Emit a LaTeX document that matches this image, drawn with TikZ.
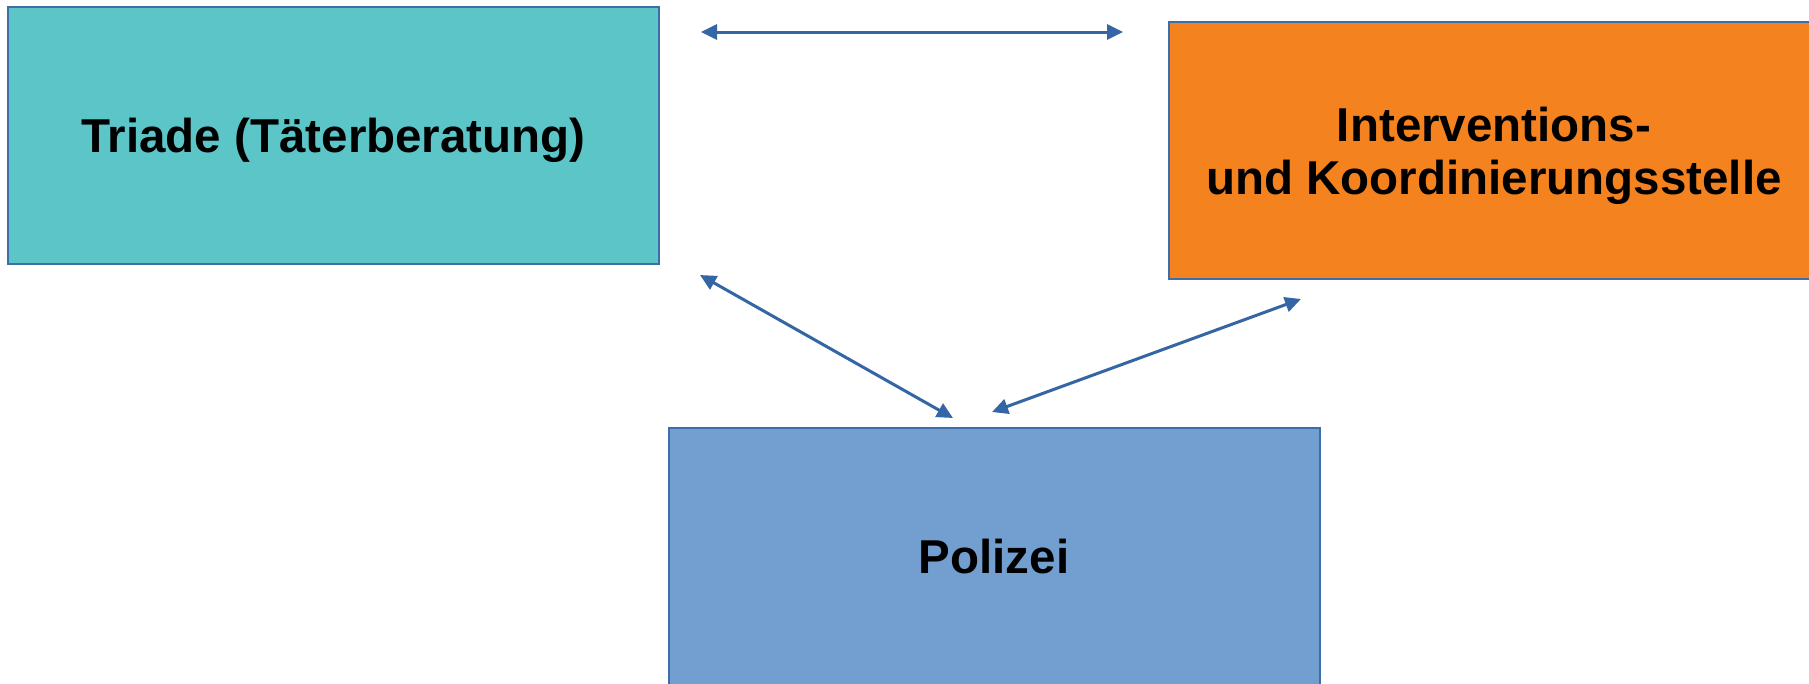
\documentclass[tikz,border=0pt]{standalone}
\usepackage{fontspec}
\setmainfont{Liberation Sans}
\usetikzlibrary{arrows.meta}
\definecolor{tealbox}{HTML}{5BC5C8}
\definecolor{orangebox}{HTML}{F4821F}
\definecolor{bluebox}{HTML}{729FCF}
\definecolor{edge}{HTML}{3F6DAA}
\definecolor{arrowc}{HTML}{3465A4}
\begin{document}
\begin{tikzpicture}[x=1pt,y=-1pt,
  boxnode/.style={draw=edge, line width=2pt, inner sep=0pt, minimum width=651pt, minimum height=257pt,
    align=center, text depth=0pt, font=\fontsize{47.5}{53}\selectfont\bfseries},
  link/.style={draw=arrowc, line width=3pt, {Triangle[length=16pt,width=15pt]}-{Triangle[length=16pt,width=15pt]}}]
\useasboundingbox (0,0) rectangle (1809,683);
\clip (0,0) rectangle (1809,683);
\fill[white] (0,0) rectangle (1809,683);
\node[boxnode, fill=tealbox] (triade) at (333.5,135.5) {Triade (Täterberatung)};
\node[boxnode, fill=orangebox] (iks) at (1494,150.5) {Interventions-\\und Koordinierungsstelle};
\node[boxnode, fill=bluebox] (polizei) at (994,556.5) {Polizei};
\coordinate (t1) at (701,32);
\coordinate (t2) at (1123,32);
\coordinate (a1) at (700,275);
\coordinate (a2) at (953,418);
\coordinate (b1) at (1301,299);
\coordinate (b2) at (992,412);
\draw[link] (t1) -- (t2);
\draw[link] (a1) -- (a2);
\draw[link] (b1) -- (b2);
\end{tikzpicture}
\end{document}
